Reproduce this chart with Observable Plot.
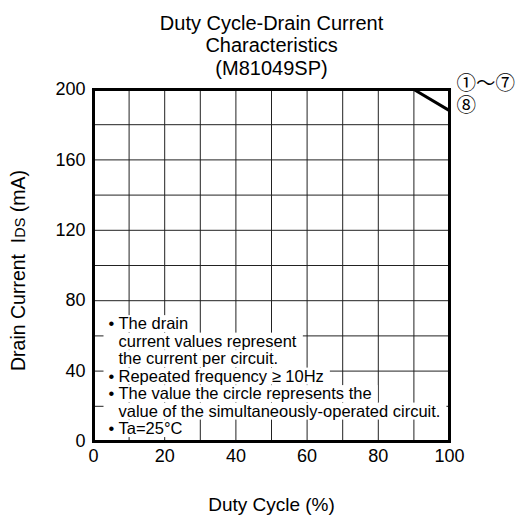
<!DOCTYPE html>
<html>
<head>
<meta charset="utf-8">
<script src="https://cdn.jsdelivr.net/npm/d3@7"></script>
<script src="https://cdn.jsdelivr.net/npm/@observablehq/plot@0.6"></script>
<style>
  body { margin: 0; background: #fff; }
  #chart svg { display: block; }
</style>
</head>
<body>
<div id="chart"></div>
<script>
// ---- Data ----
const titleLines = ["Duty Cycle-Drain Current", "Characteristics", "(M81049SP)"];
const xLabel = "Duty Cycle (%)";
const yLabelParts = ["Drain Current\u00a0 I", "DS", " (mA)"];
const xTicks = [0, 20, 40, 60, 80, 100];
const yTicks = [0, 40, 80, 120, 160, 200];
const xGrid = [10, 20, 30, 40, 50, 60, 70, 80, 90];
const yGrid = [20, 40, 60, 80, 100, 120, 140, 160, 180];

const dutyCycle = [0, 90, 100];
const seriesNames = ["①〜⑦", "⑧"];
const current1to7 = [200, 200, 200];
const current8 = [200, 200, 188];

const noteBullets = ["•", "", "", "•", "•", "", "•"];
const noteLines = [
  "The drain",
  "current values represent",
  "the current per circuit.",
  "Repeated frequency \u2265 10Hz",
  "The value the circle represents the",
  "value of the simultaneously-operated circuit.",
  "Ta=25\u00b0C"
];

// table for the line mark
const rows = [];
[current1to7, current8].forEach((vals, s) => {
  vals.forEach((v, i) => rows.push({series: seriesNames[s], duty: dutyCycle[i], current: v}));
});
const endPoints = seriesNames.map((name, s) => ({
  series: name,
  duty: dutyCycle[dutyCycle.length - 1],
  current: [current1to7, current8][s][dutyCycle.length - 1]
}));

const font = "'Liberation Sans', Arial, Helvetica, sans-serif";
const cjk = "'Noto Sans CJK JP', 'DejaVu Sans', sans-serif";

const chart = Plot.plot({
  width: 515,
  height: 521,
  marginLeft: 93,
  marginRight: 66,
  marginTop: 89,
  marginBottom: 80,
  style: {fontFamily: font, background: "white", color: "black", overflow: "visible"},
  x: {domain: [0, 100]},
  y: {domain: [0, 200]},
  marks: [
    Plot.gridX(xGrid, {stroke: "#222", strokeOpacity: 1, strokeWidth: 1}),
    Plot.gridY(yGrid, {stroke: "#222", strokeOpacity: 1, strokeWidth: 1}),
    Plot.text([noteBullets.join("\n")], {
      text: d => d, frameAnchor: "bottom-left", lineAnchor: "middle", textAnchor: "start",
      dx: 15, dy: -65.5, fontSize: 16.5, lineHeight: 1.06, fill: "black"
    }),
    Plot.text([noteLines.join("\n")], {
      text: d => d, frameAnchor: "bottom-left", lineAnchor: "middle", textAnchor: "start",
      dx: 25, dy: -65.5, fontSize: 16.5, lineHeight: 1.06, fill: "black"
    }),
    Plot.frame({stroke: "black", strokeWidth: 3}),
    Plot.line(rows, {x: "duty", y: "current", z: "series", stroke: "black", strokeWidth: 3}),
    Plot.text(endPoints.filter(d => d.series === seriesNames[0]), {
      x: "duty", y: "current", text: "series", textAnchor: "start", dx: 7, dy: -6,
      fontSize: 19.5, fontFamily: cjk, fill: "black"
    }),
    Plot.text(endPoints.filter(d => d.series === seriesNames[1]), {
      x: "duty", y: "current", text: "series", textAnchor: "start", dx: 7, dy: -5,
      fontSize: 19.5, fontFamily: cjk, fill: "black"
    }),
    Plot.axisX(xTicks, {tickSize: 0, tickPadding: 8, fontSize: 18, label: null}),
    Plot.axisY(yTicks, {tickSize: 0, tickPadding: 8, fontSize: 18, label: null}),
    Plot.text([xLabel], {text: d => d, frameAnchor: "bottom", dy: 69, fontSize: 19, fill: "black"}),
    Plot.text([yLabelParts.join("")], {
      text: d => d, frameAnchor: "left", textAnchor: "middle", rotate: -90, dx: -75, dy: 5,
      fontSize: 19.5, fill: "black"
    }),
    Plot.text([titleLines.join("\n")], {
      text: d => d, frameAnchor: "top", lineAnchor: "middle", dy: -44.5, fontSize: 20, lineHeight: 1.12, fill: "black"
    })
  ]
});

document.getElementById("chart").appendChild(chart);

const allTexts = Array.from(chart.querySelectorAll("text"));

// White boxes behind each note line (they hide the grid under the text)
(function () {
  const text = allTexts.find(t => {
    const sp = t.querySelector("tspan");
    return sp && sp.textContent === noteLines[0];
  });
  const bulletText = allTexts.find(t => {
    const sp = t.querySelector("tspan");
    return sp && sp.textContent === "•";
  });
  if (!text || !bulletText) return;
  const notesG = text.parentNode;
  const bulletsG = bulletText.parentNode;
  const spans = text.querySelectorAll("tspan");
  const ns = "http://www.w3.org/2000/svg";
  const outer = document.createElementNS(ns, "g");
  if (notesG.getAttribute("transform")) outer.setAttribute("transform", notesG.getAttribute("transform"));
  const inner = document.createElementNS(ns, "g");
  if (text.getAttribute("transform")) inner.setAttribute("transform", text.getAttribute("transform"));
  outer.appendChild(inner);
  spans.forEach(sp => {
    const bb = sp.getBBox();
    const r = document.createElementNS(ns, "rect");
    r.setAttribute("x", bb.x - 15);
    r.setAttribute("y", bb.y + 1);
    r.setAttribute("width", bb.width + 21);
    r.setAttribute("height", bb.height - 1);
    r.setAttribute("fill", "white");
    inner.appendChild(r);
  });
  bulletsG.parentNode.insertBefore(outer, bulletsG);
})();

// y label with small "DS"
(function () {
  const t = allTexts.find(t => t.textContent === yLabelParts.join(""));
  if (!t) return;
  const sel = d3.select(t);
  sel.text(null);
  sel.append("tspan").text(yLabelParts[0]);
  sel.append("tspan").attr("font-size", "0.74em").text(yLabelParts[1]);
  sel.append("tspan").text(yLabelParts[2]);
})();
</script>
</body>
</html>
